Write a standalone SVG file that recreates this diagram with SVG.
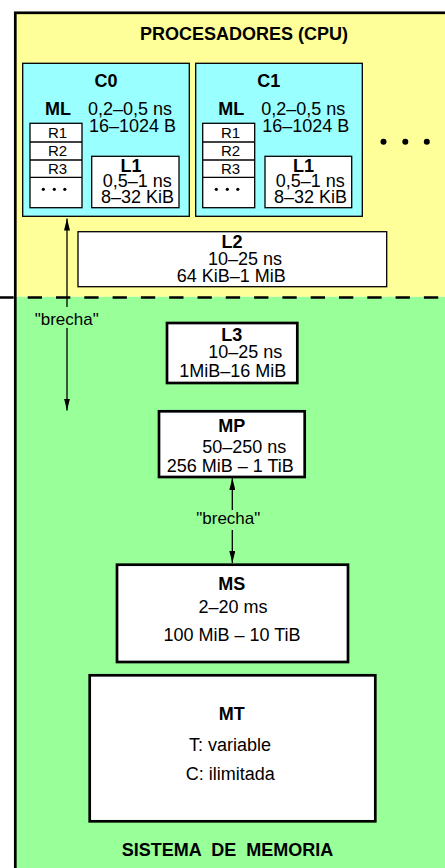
<svg xmlns="http://www.w3.org/2000/svg" width="445" height="868" viewBox="0 0 445 868">
  <style>
    text { font-family: "Liberation Sans", Arial, Helvetica, sans-serif; font-size: 18px; fill: #000; }
    .b { font-weight: bold; }
    .m { text-anchor: middle; }
    .reg { font-size: 15px; text-anchor: middle; }
    .gap { font-size: 17px; text-anchor: middle; }
    .thin { fill: #fff; stroke: #000; stroke-width: 1.3; }
    .core { fill: #99ffff; stroke: #000; stroke-width: 1.3; }
    .thick { fill: #fff; stroke: #000; stroke-width: 2.7; }
    .conn { stroke: #000; stroke-width: 1.3; fill: none; marker-end: url(#arrow); }
  </style>
  <defs>
    <marker id="arrow" viewBox="0 0 12 6" refX="12" refY="3" markerWidth="12" markerHeight="6" markerUnits="userSpaceOnUse" orient="auto">
      <path d="M0,0 L12,3 L0,6 z" fill="#000"/>
    </marker>
  </defs>

  <rect width="445" height="868" fill="#fff"/>

  <!-- outer frame: processor area (yellow) and memory system area (green) -->
  <g id="frame">
    <rect x="15.3" y="12.8" width="450" height="284" fill="#ffff99"/>
    <rect x="15.3" y="296.8" width="450" height="590" fill="#99ff99"/>
    <rect x="15.3" y="12.8" width="450" height="880" fill="none" stroke="#000" stroke-width="2.7"/>
    <line x1="-0.6" y1="297.5" x2="445" y2="297.5" stroke="#000" stroke-width="2.5" stroke-dasharray="14.3 14"/>
    <text class="b m" x="244" y="39.5">PROCESADORES (CPU)</text>
    <text class="b m" x="227.5" y="856" style="white-space:pre">SISTEMA  DE  MEMORIA</text>
  </g>

  <!-- core 0 -->
  <g id="core0">
    <rect class="core" x="22.7" y="63.3" width="166.6" height="153"/>
    <text class="b m" x="106" y="87">C0</text>
    <text class="b" x="45" y="115">ML</text>
    <text x="88" y="115">0,2–0,5 ns</text>
    <text x="89" y="131.7">16–1024 B</text>
    <rect class="thin" x="30" y="123.3" width="52" height="84.4"/>
    <line x1="30" y1="142" x2="82" y2="142" stroke="#000" stroke-width="1.3"/>
    <line x1="30" y1="160" x2="82" y2="160" stroke="#000" stroke-width="1.3"/>
    <line x1="30" y1="177.3" x2="82" y2="177.3" stroke="#000" stroke-width="1.3"/>
    <text class="reg" x="57.5" y="138.3">R1</text>
    <text class="reg" x="57.5" y="156">R2</text>
    <text class="reg" x="57.5" y="174">R3</text>
    <circle cx="43.3" cy="189.3" r="1.6"/>
    <circle cx="54.3" cy="189.3" r="1.6"/>
    <circle cx="64.8" cy="189.3" r="1.6"/>
  </g>
  <g id="l1-0">
    <rect class="thin" x="91.7" y="156.3" width="87.3" height="51.4"/>
    <text class="b m" x="131" y="171.7">L1</text>
    <text x="102.7" y="187.3">0,5–1 ns</text>
    <text x="101" y="202.7">8–32 KiB</text>
  </g>

  <!-- core 1 -->
  <g id="core1">
    <rect class="core" x="195.7" y="63.3" width="166.6" height="153"/>
    <text class="b m" x="268.8" y="87">C1</text>
    <text class="b" x="218.3" y="115">ML</text>
    <text x="261.3" y="115">0,2–0,5 ns</text>
    <text x="262.3" y="131.7">16–1024 B</text>
    <rect class="thin" x="202.7" y="123.3" width="52" height="84.4"/>
    <line x1="202.7" y1="142" x2="254.7" y2="142" stroke="#000" stroke-width="1.3"/>
    <line x1="202.7" y1="160" x2="254.7" y2="160" stroke="#000" stroke-width="1.3"/>
    <line x1="202.7" y1="177.3" x2="254.7" y2="177.3" stroke="#000" stroke-width="1.3"/>
    <text class="reg" x="230.5" y="138.3">R1</text>
    <text class="reg" x="230.5" y="156">R2</text>
    <text class="reg" x="230.5" y="174">R3</text>
    <circle cx="216.3" cy="189.3" r="1.6"/>
    <circle cx="227.3" cy="189.3" r="1.6"/>
    <circle cx="237.8" cy="189.3" r="1.6"/>
  </g>
  <g id="l1-1">
    <rect class="thin" x="265" y="156.3" width="86.7" height="51.4"/>
    <text class="b m" x="303.5" y="171.7">L1</text>
    <text x="275.7" y="187.3">0,5–1 ns</text>
    <text x="274" y="202.7">8–32 KiB</text>
  </g>

  <!-- more cores -->
  <g id="more-cores">
    <circle cx="383.5" cy="141.7" r="3"/>
    <circle cx="405.3" cy="141.7" r="3"/>
    <circle cx="426.8" cy="141.7" r="3"/>
  </g>

  <g id="l2">
    <rect class="thin" x="78" y="231.7" width="308.7" height="55"/>
    <text class="b m" x="232" y="247.7">L2</text>
    <text x="208" y="265">10–25 ns</text>
    <text x="176.7" y="282.3">64 KiB–1 MiB</text>
  </g>

  <g id="l3">
    <rect class="thick" x="167" y="323" width="130.3" height="60"/>
    <text class="b m" x="231.7" y="340.7">L3</text>
    <text x="208.3" y="358.3">10–25 ns</text>
    <text x="179.3" y="376.7">1MiB–16 MiB</text>
  </g>

  <g id="mp">
    <rect class="thick" x="159" y="411.3" width="145.7" height="65.7"/>
    <text class="b m" x="231.7" y="431.7">MP</text>
    <text x="202.3" y="452.7">50–250 ns</text>
    <text x="166.7" y="472.3">256 MiB – 1 TiB</text>
  </g>

  <g id="ms">
    <rect class="thick" x="117" y="564.7" width="231" height="97.3"/>
    <text class="b m" x="231.7" y="590">MS</text>
    <text class="m" x="233" y="613.3">2–20 ms</text>
    <text class="m" x="232" y="640.7">100 MiB – 10 TiB</text>
  </g>

  <g id="mt">
    <rect class="thick" x="89.7" y="675.3" width="285.6" height="146"/>
    <text class="b m" x="231.8" y="720">MT</text>
    <text x="189" y="750.7">T: variable</text>
    <text x="185.7" y="780">C: ilimitada</text>
  </g>

  <!-- connectors: gaps between levels -->
  <g id="connectors">
    <line class="conn" x1="67" y1="307" x2="67" y2="218.5"/>
    <line class="conn" x1="67" y1="328" x2="67" y2="410.5"/>
    <text class="gap" x="66.7" y="325">"brecha"</text>
    <line class="conn" x1="232.3" y1="510" x2="232.3" y2="478"/>
    <line class="conn" x1="232.3" y1="530" x2="232.3" y2="563"/>
    <text class="gap" x="228.3" y="524.3">"brecha"</text>
  </g>
</svg>
